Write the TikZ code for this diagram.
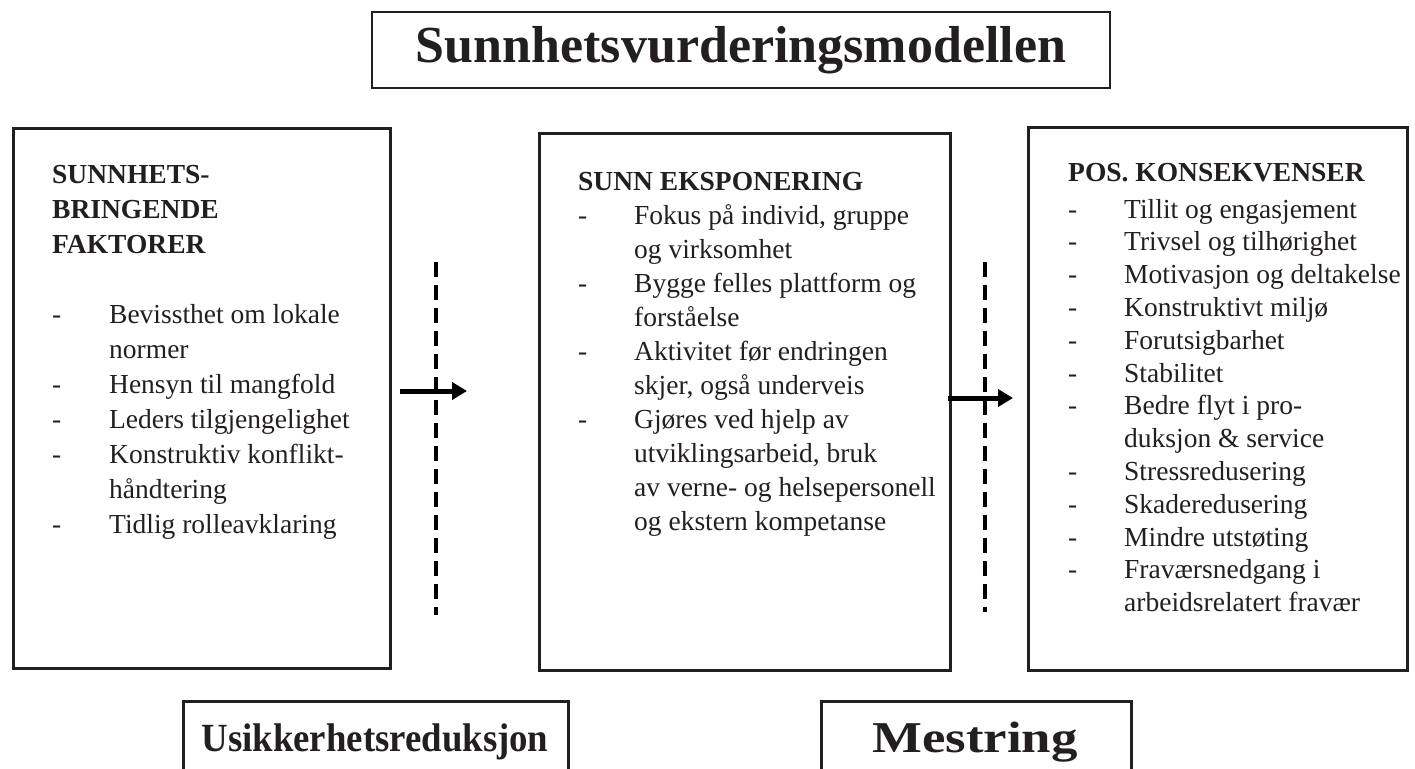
\documentclass[tikz,border=0pt]{standalone}
\usepackage{fontspec}
\setmainfont{Liberation Serif}
\usetikzlibrary{arrows.meta}
\definecolor{ink}{HTML}{231F20}
\begin{document}
\begin{tikzpicture}[x=1pt,y=-1pt,
  box/.style={draw=ink, line width=2.5pt, inner sep=0pt},
  body/.style={inner sep=0pt, anchor=base west, text=ink},
  big/.style={inner sep=0pt, anchor=base, text=ink},
  dash line/.style={draw=black, line width=3.5pt, dash pattern=on 15pt off 8pt},
  flow/.style={draw=black, line width=5pt, -{Triangle[length=15pt,width=17pt]}}
]
\useasboundingbox (0,0) rectangle (1415,768);

% title
\node[box, minimum width=738pt, minimum height=76pt, text=ink,
      font=\fontsize{52}{56}\bfseries\selectfont] (title) at (741,50) {Sunnhetsvurderingsmodellen};

% left box
\node[box, anchor=north west, minimum width=377pt, minimum height=540pt] (lbox) at (12,127) {};
\node[body, font=\fontsize{27.5}{35}\selectfont] (ltxt) at (52,183) {\begin{tabular}[t]{@{}p{57pt}@{}l@{}}
\multicolumn{2}{@{}l@{}}{\bfseries SUNNHETS-}\\
\multicolumn{2}{@{}l@{}}{\bfseries BRINGENDE}\\
\multicolumn{2}{@{}l@{}}{\bfseries FAKTORER}\\
\\
- & Bevissthet om lokale\\
  & normer\\
- & Hensyn til mangfold\\
- & Leders tilgjengelighet\\
- & Konstruktiv konflikt-\\
  & håndtering\\
- & Tidlig rolleavklaring
\end{tabular}};

% middle box
\node[box, anchor=north west, minimum width=411pt, minimum height=537pt] (mbox) at (538,132) {};
\node[body, font=\fontsize{27.5}{34}\selectfont] (mtxt) at (578,190) {\begin{tabular}[t]{@{}p{56pt}@{}l@{}}
\multicolumn{2}{@{}l@{}}{\bfseries SUNN EKSPONERING}\\
- & Fokus på individ, gruppe\\
  & og virksomhet\\
- & Bygge felles plattform og\\
  & forståelse\\
- & Aktivitet før endringen\\
  & skjer, også underveis\\
- & Gjøres ved hjelp av\\
  & utviklingsarbeid, bruk\\
  & av verne- og helsepersonell\\
  & og ekstern kompetanse
\end{tabular}};

% right box
\node[box, anchor=north west, minimum width=379pt, minimum height=543pt] (rbox) at (1027,126) {};
\node[body, font=\fontsize{27.5}{33}\selectfont\bfseries] (rhead) at (1068,181) {POS. KONSEKVENSER};
\node[body, font=\fontsize{27.5}{32.8}\selectfont] (rtxt) at (1068,218) {\begin{tabular}[t]{@{}p{56pt}@{}l@{}}
- & Tillit og engasjement\\
- & Trivsel og tilhørighet\\
- & Motivasjon og deltakelse\\
- & Konstruktivt miljø\\
- & Forutsigbarhet\\
- & Stabilitet\\
- & Bedre flyt i pro-\\
  & duksjon \& service\\
- & Stressredusering\\
- & Skaderedusering\\
- & Mindre utstøting\\
- & Fraværsnedgang i\\
  & arbeidsrelatert fravær
\end{tabular}};

% dashed separators
\coordinate (d1t) at (436,262);
\coordinate (d1b) at (436,615);
\coordinate (d2t) at (985,262);
\coordinate (d2b) at (985,612);
\draw[dash line] (d1t) -- (d1b);
\draw[dash line] (d2t) -- (d2b);

% arrows
\coordinate (a1s) at (400,391);
\coordinate (a1e) at (467,391);
\coordinate (a2s) at (948,398);
\coordinate (a2e) at (1013,398);
\draw[flow] (a1s) -- (a1e);
\draw[flow] (a2s) -- (a2e);

% bottom boxes
\node[box, anchor=north west, minimum width=385pt, minimum height=120pt] (ubox) at (182,700) {};
\node[big, font=\fontsize{40}{44}\bfseries\selectfont] (utxt) at (375,751) {\scalebox{0.92}[1]{Usikkerhetsreduksjon}};
\node[box, anchor=north west, minimum width=310pt, minimum height=120pt] (mesbox) at (820,700) {};
\node[big, font=\fontsize{44}{48}\bfseries\selectfont] (mestxt) at (975,752) {\scalebox{1.2}[1]{Mestring}};
\end{tikzpicture}
\end{document}
